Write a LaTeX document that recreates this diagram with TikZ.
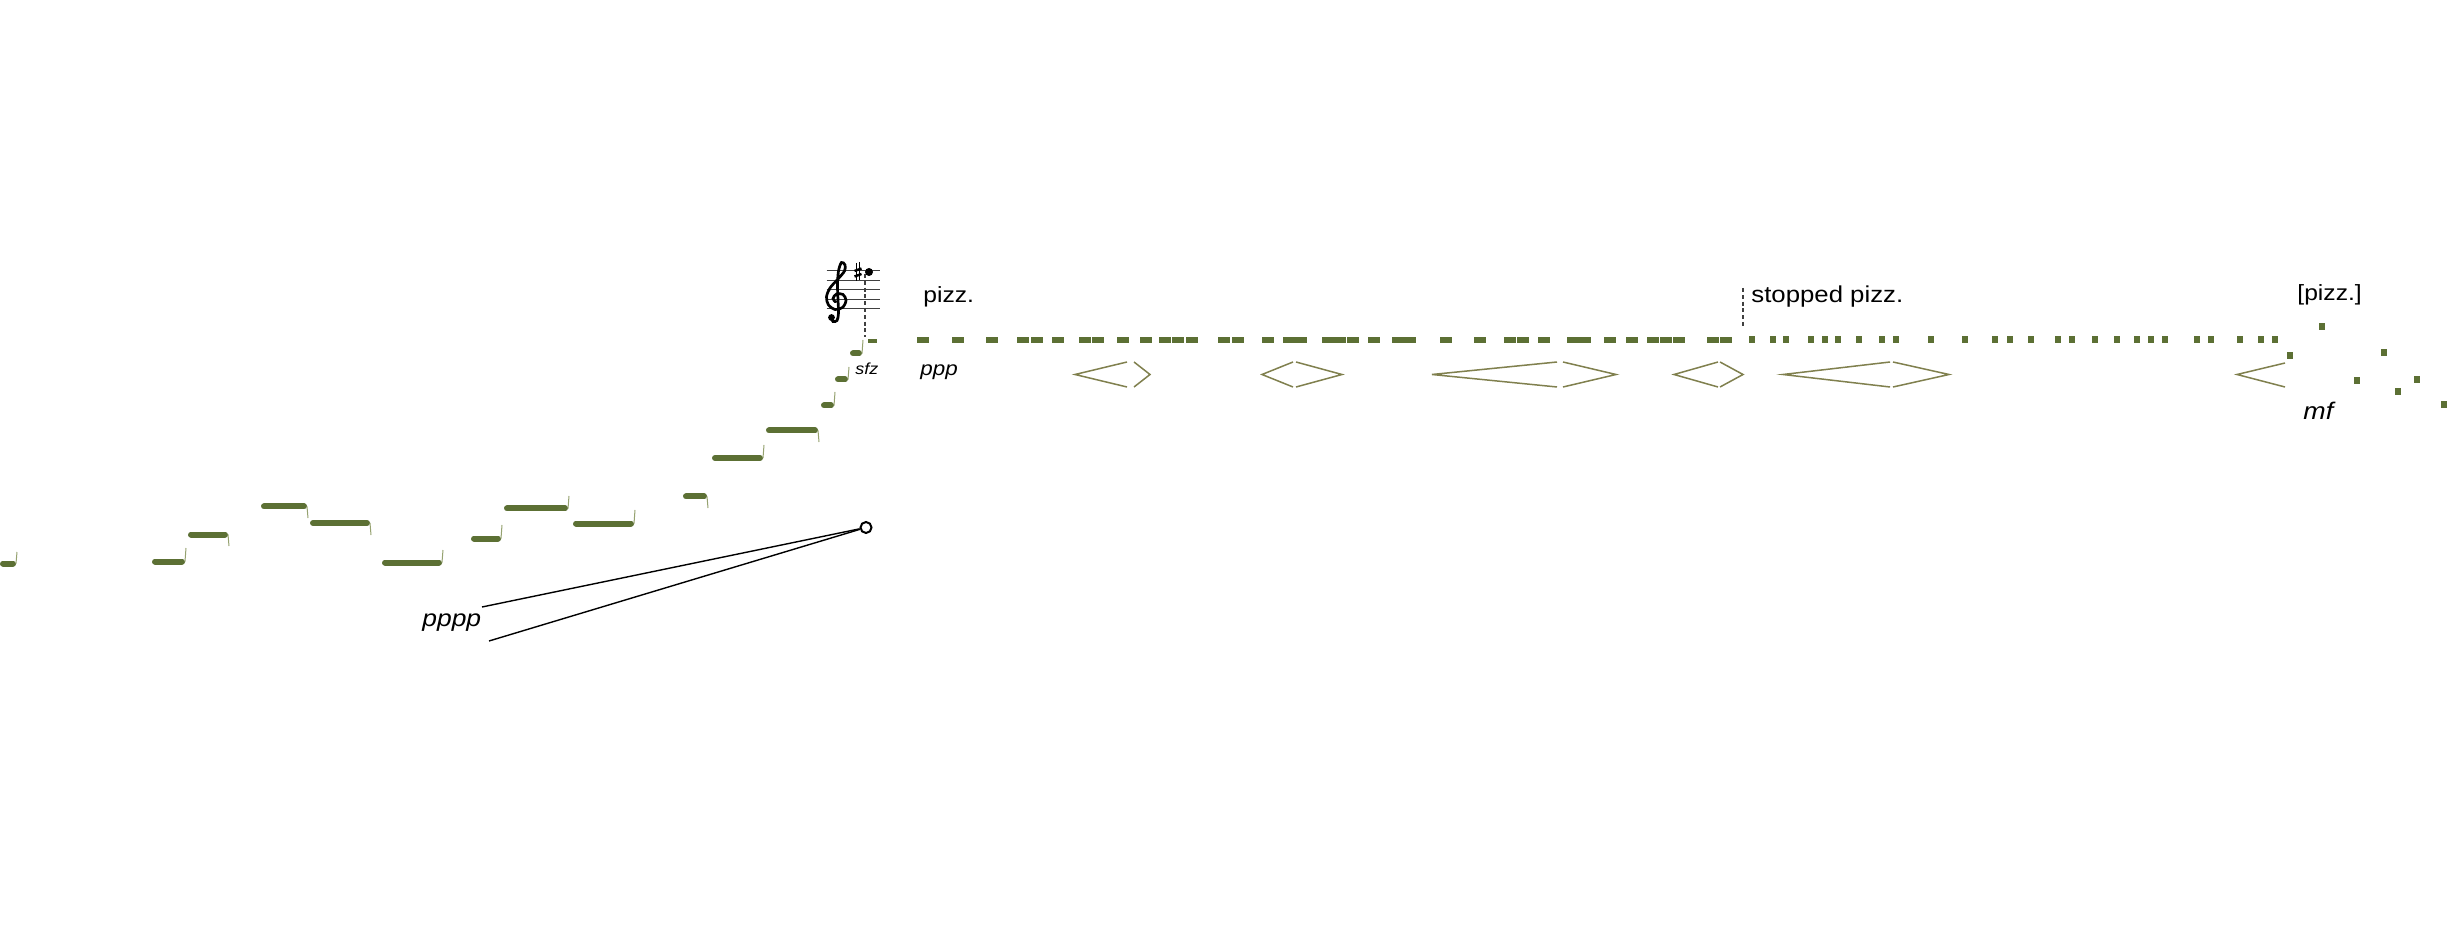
\documentclass[tikz,border=0pt]{standalone}
\usepackage{fontspec}
\setmainfont{Liberation Sans}[FakeStretch=1.12]
\definecolor{barg}{RGB}{92,112,52}
\definecolor{tickg}{RGB}{150,162,112}
\definecolor{hairg}{RGB}{128,128,78}
\begin{document}
\begin{tikzpicture}[x=0.5pt,y=-0.5pt,
  bar/.style={line width=3pt, line cap=round, draw=barg},
  tickline/.style={line width=0.5pt, draw=tickg},
  hp/.style={draw=hairg, line width=0.75pt},
  staffline/.style={draw=black!75, line width=0.5pt},
  dashline/.style={draw=black!75, line width=0.55pt, dash pattern=on 2pt off 1.4pt},
  txt/.style={inner sep=0pt, anchor=base west, text=black},
  lead/.style={draw=black, line width=0.7pt}]
\fill[white] (0,0) rectangle (2450,951);
\useasboundingbox (0,0) rectangle (2450,951);

% ---- staircase bars with ticks
\foreach \a/\b/\y/\t in {0/16/563.5/552, 152/185/561.5/548, 188/228/534.5/546,
  261/307/506.5/518, 310/370/523/535, 382/442/562.5/550, 471/501/538.5/525,
  504/568/508.5/496, 573/634/523.5/510, 683/707/496.5/508, 712/763/458/445,
  766/818/430.5/442, 821/834/405.5/392, 835/848/379.5/367, 850/862/353.5/340}{
  \draw[bar] ({\a+3},\y) -- ({\b-3},\y);
  \draw[tickline] (\b,\y) -- ({\b+1},\t);
}
\fill[barg] (868,339) rectangle (877,343);

% ---- staff with clef, sharp and note
\foreach \yy in {271,280.5,290,299.5,309}
  \draw[staffline] (826.5,\yy) -- (880,\yy);
\draw[line width=1.35pt, line cap=round] plot[smooth, tension=0.55] coordinates {
  (831,318) (833,321.5) (837,320.5) (838.5,313) (838,300) (837.5,285) (838.5,271)
  (841.5,262.5) (845,265) (844.5,271) (838,279) (830,288) (826.5,297) (828.5,305)
  (835,309.5) (842.5,307.5) (846,300.5) (843,294.5) (836.5,294) (833,298.5) (835.5,302)};
\fill (831.5,317.5) circle[radius=1.7pt];
% sharp
\draw[line width=0.45pt] (856.5,263) -- (856.5,281) (859.5,262) -- (859.5,280);
\draw[line width=1.2pt] (854.5,271) -- (861.5,268.5) (854.5,276.5) -- (861.5,274);
% note head
\node[fill=black, circle, inner sep=0pt, minimum size=4pt] (note) at (869,272) {};
\coordinate (noteend) at (865,337);
\draw[dashline] (865,274) -- (noteend);

% ---- texts
\node[txt, font=\fontsize{11}{13}\selectfont] (pz) at (923,302.5) {pizz.};
\node[txt, font=\fontsize{11.5}{13}\selectfont] (sp) at (1751,302.5) {stopped pizz.};
\node[txt, font=\fontsize{11}{13}\selectfont] (bpz) at (2297,301) {[pizz.]};
\node[txt, font=\fontsize{10}{12}\selectfont\itshape] (ppp) at (920,376) {ppp};
\node[txt, font=\fontsize{11.8}{14}\selectfont\itshape] (pppp) at (422,626.5) {pppp};
\node[txt, font=\fontsize{12}{14}\selectfont\itshape] (mf) at (2303,420) {mf};
\node[txt, font=\fontsize{8}{10}\selectfont\itshape] (sfz) at (855,375) {sfz};

% stopped pizz. marker
\coordinate (spt) at (1743,288);
\coordinate (spb) at (1743,328);
\draw[dashline] (spt) -- (spb);

% ---- pizz. dots
\foreach \x in {917,952,986,1017,1031,1052,1079,1092,1117,1140,1159,1172,1186,
  1218,1232,1262,1283,1295,1322,1334,1347,1368,1392,1404,1440,1474,1504,1517,
  1538,1567,1579,1604,1626,1647,1660,1673,1707,1720}
  \fill[barg] (\x,337) rectangle ++(11.5,6);
% ---- stopped pizz. dots
\foreach \x in {1749,1770,1783,1808,1822,1835,1856,1879,1893,1928,1962,1992,2007,
  2028,2055,2069,2092,2114,2134,2148,2162,2194,2208,2237,2258,2272}
  \fill[barg] (\x,336.5) rectangle ++(5.5,6.5);
% ---- scattered dots
\foreach \x/\y in {2287/352,2319/323,2381/349,2354/377,2414/376,2395/388,2441/401}
  \fill[barg] (\x,\y) rectangle ++(6,7);

% ---- hairpins
\draw[hp] (1127,362) -- (1075,374.5) -- (1127,387);
\draw[hp] (1134,362) -- (1150,374.5) -- (1134,387);
\draw[hp] (1293,362) -- (1262,374.5) -- (1293,387);
\draw[hp] (1296,362) -- (1342,374.5) -- (1296,387);
\draw[hp] (1557,362) -- (1432,374.5) -- (1557,387);
\draw[hp] (1563,362) -- (1616,374.5) -- (1563,387);
\draw[hp] (1718,362) -- (1674,374.5) -- (1718,387);
\draw[hp] (1720,362) -- (1743,374.5) -- (1720,387);
\draw[hp] (1890,362) -- (1783,374.5) -- (1890,387);
\draw[hp] (1893,362) -- (1949,374.5) -- (1893,387);
\draw[hp] (2285,363) -- (2237,374.5) -- (2285,387);

% ---- ring with two leader lines
\coordinate (la) at (482,607);
\coordinate (lb) at (489,641);
\node[circle, draw=black, line width=1pt, fill=white, inner sep=0pt, minimum size=5.5pt] (ring) at (866,527.5) {};
\draw[lead] (ring) -- (la);
\draw[lead] (ring) -- (lb);
\end{tikzpicture}
\end{document}
